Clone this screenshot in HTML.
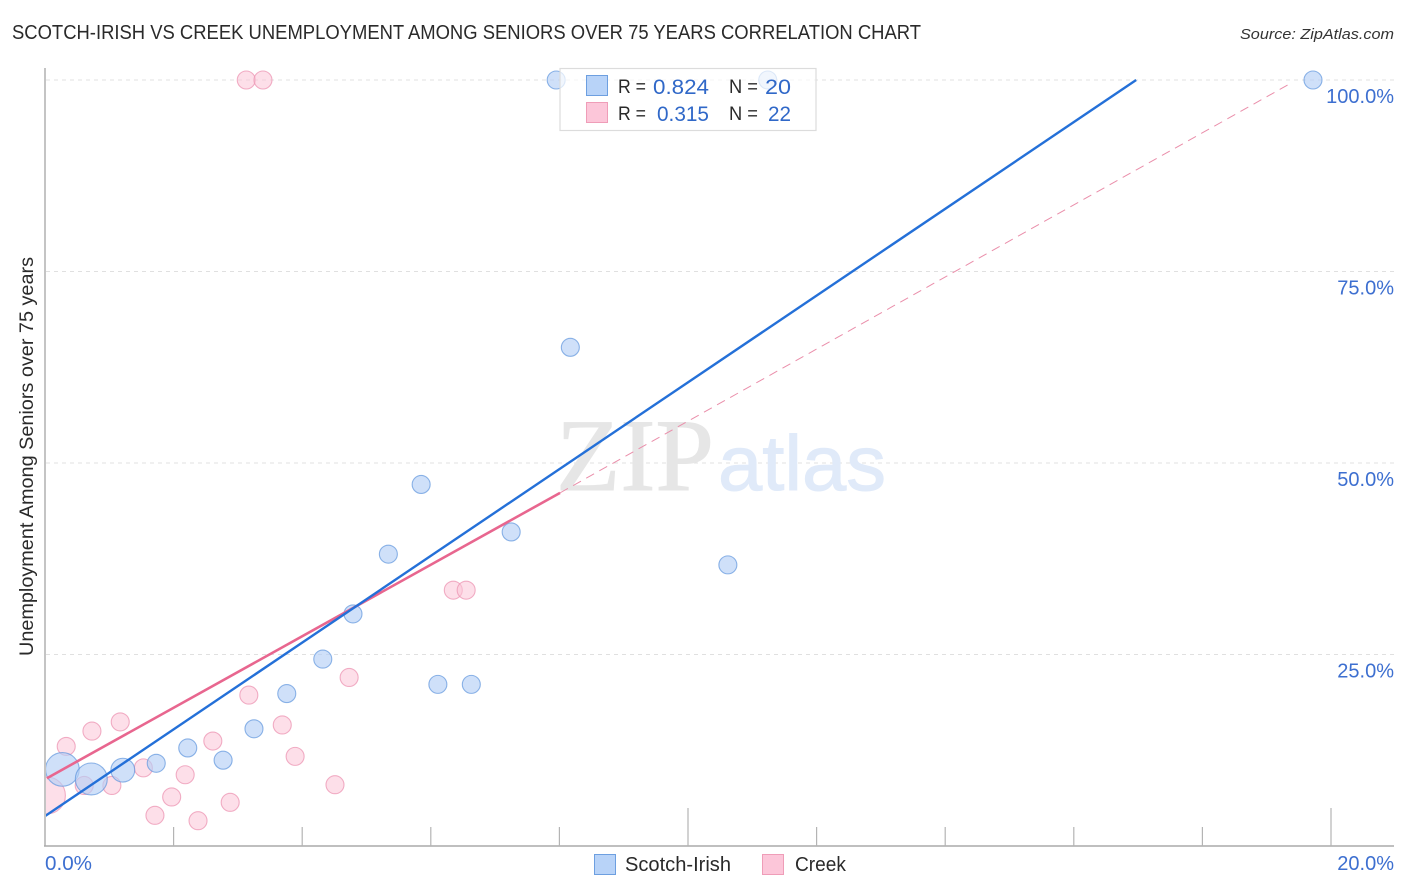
<!DOCTYPE html>
<html lang="en">
<head>
<meta charset="utf-8">
<title>Scotch-Irish vs Creek Unemployment Among Seniors over 75 Years Correlation Chart</title>
<style>
html,body{margin:0;padding:0;background:#fff;}
svg{display:block;font-family:"Liberation Sans",sans-serif;}
</style>
</head>
<body>
<svg id="chart" width="1406" height="892" viewBox="0 0 1406 892" xmlns="http://www.w3.org/2000/svg">
  <defs>
    <clipPath id="plot-clip"><rect x="46" y="60" width="1360" height="786"/></clipPath>
  </defs>
  <text x="12" y="39" font-size="20" fill="#2a2a2a" textLength="909" lengthAdjust="spacingAndGlyphs">SCOTCH-IRISH VS CREEK UNEMPLOYMENT AMONG SENIORS OVER 75 YEARS CORRELATION CHART</text>
  <text x="1394" y="39" font-size="15" font-style="italic" fill="#333" text-anchor="end" textLength="154" lengthAdjust="spacingAndGlyphs">Source: ZipAtlas.com</text>
  <text transform="translate(33,656) rotate(-90)" font-size="19" fill="#2a2a2a" textLength="399" lengthAdjust="spacingAndGlyphs">Unemployment Among Seniors over 75 years</text>

  <g id="grid"></g>

  <g>
    <text x="556" y="490" font-family="'Liberation Serif',serif" font-size="103" fill="#e6e6e6" stroke="#e6e6e6" stroke-width="1" textLength="158" lengthAdjust="spacingAndGlyphs">ZIP</text>
    <text x="718" y="490" font-size="78" fill="#e0eaf9" stroke="#e0eaf9" stroke-width="1" textLength="168" lengthAdjust="spacingAndGlyphs">atlas</text>
  </g>

  <g id="axes"></g>
  <g id="points-creek" clip-path="url(#plot-clip)"></g>
  <g id="points-scotch" clip-path="url(#plot-clip)"></g>
  <g id="trends" clip-path="url(#plot-clip)"></g>
  <g id="labels"></g>

  <g>
    <rect x="560" y="68.5" width="256" height="62" fill="#fff" fill-opacity="0.7" stroke="#dcdcdc" stroke-width="1.2"/>
    <rect x="586.5" y="75.5" width="21" height="20" fill="#b8d3f8" stroke="#6d9fe0" stroke-width="1"/>
    <rect x="586.5" y="102.5" width="21" height="20" fill="#fcc6d9" stroke="#ef9db8" stroke-width="1"/>
    <text x="618" y="93" font-size="19" fill="#2a2a2a" textLength="28" lengthAdjust="spacingAndGlyphs">R =</text>
    <text x="653" y="94" font-size="21" fill="#3068c8" textLength="56" lengthAdjust="spacingAndGlyphs">0.824</text>
    <text x="729" y="93" font-size="19" fill="#2a2a2a" textLength="29" lengthAdjust="spacingAndGlyphs">N =</text>
    <text x="765" y="94" font-size="21" fill="#3068c8" textLength="26" lengthAdjust="spacingAndGlyphs">20</text>
    <text x="618" y="120" font-size="19" fill="#2a2a2a" textLength="28" lengthAdjust="spacingAndGlyphs">R =</text>
    <text x="657" y="121" font-size="21" fill="#3068c8" textLength="52" lengthAdjust="spacingAndGlyphs">0.315</text>
    <text x="729" y="120" font-size="19" fill="#2a2a2a" textLength="29" lengthAdjust="spacingAndGlyphs">N =</text>
    <text x="768" y="121" font-size="21" fill="#3068c8" textLength="23" lengthAdjust="spacingAndGlyphs">22</text>
  </g>

  <g>
    <rect x="594.5" y="854.5" width="21" height="20" fill="#b8d3f8" stroke="#6d9fe0" stroke-width="1"/>
    <text x="625" y="871" font-size="20" fill="#2a2a2a" textLength="106" lengthAdjust="spacingAndGlyphs">Scotch-Irish</text>
    <rect x="762.5" y="854.5" width="21" height="20" fill="#fcc6d9" stroke="#ef9db8" stroke-width="1"/>
    <text x="795" y="871" font-size="20" fill="#2a2a2a" textLength="51" lengthAdjust="spacingAndGlyphs">Creek</text>
  </g>
</svg>
<script>
const yTickValues = [25, 50, 75, 100];
const yTickLabels = ["25.0%", "50.0%", "75.0%", "100.0%"];
const xTickValues = [0, 2, 4, 6, 8, 10, 12, 14, 16, 18, 20];
const xMajorTicks = [0, 10, 20];
const xEndLabels = ["0.0%", "20.0%"];

const scotchX = [0.27, 0.72, 1.21, 1.73, 2.22, 2.77, 3.25, 3.76, 4.32, 4.79, 5.34, 5.85, 6.11, 6.63, 7.25, 7.95, 8.17, 10.62, 11.24, 19.72];
const scotchY = [10.0, 8.75, 9.9, 10.8, 12.8, 11.2, 15.3, 19.9, 24.4, 30.3, 38.1, 47.2, 21.1, 21.1, 41.0, 100, 65.1, 36.7, 100, 100];
const scotchWeight = [3.5, 3.15, 1.75, 1, 1, 1, 1, 1, 1, 1, 1, 1, 1, 1, 1, 1, 1, 1, 1, 1];

const creekX = [0.03, 0.33, 0.73, 1.17, 0.61, 1.04, 1.53, 2.18, 1.71, 1.97, 2.38, 2.88, 2.61, 3.17, 3.69, 3.89, 4.51, 4.73, 6.35, 6.55, 3.13, 3.39];
const creekY = [6.6, 13.0, 15.0, 16.2, 7.9, 7.9, 10.2, 9.3, 4.0, 6.4, 3.3, 5.7, 13.7, 19.7, 15.8, 11.7, 8.0, 22.0, 33.4, 33.4, 100, 100];
const creekWeight = [4.2, 1, 1, 1, 1, 1, 1, 1, 1, 1, 1, 1, 1, 1, 1, 1, 1, 1, 1, 1, 1, 1];

const scotchTrendX = [0, 16.97];
const scotchTrendY = [3.9, 100];
const creekTrendX = [0.03, 8.01];
const creekTrendY = [8.85, 46.1];
const creekProjectionX = [8.01, 19.38];
const creekProjectionY = [46.1, 99.6];

const NS = 'http://www.w3.org/2000/svg';
const xAxis = v => 45 + v * 64.3;
const yAxis = v => 846 - v * 7.66;
const rScale = w => 9 * Math.sqrt(w);

function make(tag, attrs, parent) {
  const el = document.createElementNS(NS, tag);
  for (const k in attrs) el.setAttribute(k, attrs[k]);
  parent.appendChild(el);
  return el;
}

const gridG = document.getElementById('grid');
const axesG = document.getElementById('axes');
const labelsG = document.getElementById('labels');
const scotchG = document.getElementById('points-scotch');
const creekG = document.getElementById('points-creek');
const trendsG = document.getElementById('trends');

yTickValues.forEach((v, i) => {
  const line = make('line', {x1: 46, x2: 1394, y1: yAxis(v), y2: yAxis(v), stroke: '#e0e0e0', 'stroke-width': 1, 'stroke-dasharray': '4 4'}, gridG);
  
  
  const label = make('text', {x: 1394, y: yAxis(v) + 23, 'font-size': 20, fill: '#3d6fd0', 'text-anchor': 'end'}, labelsG);
  label.textContent = yTickLabels[i];
  
  
});

const yLine = make('line', {x1: 45, x2: 45, y1: 68, y2: 846, stroke: '#aaaaaa', 'stroke-width': 1.4}, axesG);


const xLine = make('line', {x1: 44, x2: 1394, y1: 846, y2: 846, stroke: '#aaaaaa', 'stroke-width': 1.4}, axesG);



xTickValues.forEach(v => {
  if (v === 0) return;
  const top = xMajorTicks.includes(v) ? 808 : 827;
  const tick = make('line', {x1: xAxis(v), x2: xAxis(v), y1: top, y2: 846, stroke: '#b4b4b4', 'stroke-width': 1.2}, axesG);
  
  
});

const xStart = make('text', {x: 45, y: 870, 'font-size': 20, fill: '#3d6fd0', textLength: 47, lengthAdjust: 'spacingAndGlyphs'}, labelsG);
xStart.textContent = xEndLabels[0];


const xEnd = make('text', {x: 1394, y: 870, 'font-size': 20, fill: '#3d6fd0', 'text-anchor': 'end'}, labelsG);
xEnd.textContent = xEndLabels[1];



creekX.forEach((x, i) => {
  const c = make('circle', {cx: xAxis(x), cy: yAxis(creekY[i]), r: rScale(creekWeight[i]), fill: '#fbc4d7', 'fill-opacity': 0.55, stroke: '#ee9ab6', 'stroke-opacity': 0.8, 'stroke-width': 1.1}, creekG);
  
  
});

scotchX.forEach((x, i) => {
  const c = make('circle', {cx: xAxis(x), cy: yAxis(scotchY[i]), r: rScale(scotchWeight[i]), fill: '#b5d0f6', 'fill-opacity': 0.65, stroke: '#5f95dd', 'stroke-opacity': 0.7, 'stroke-width': 1.1}, scotchG);
  
  
});

const projection = make('line', {x1: xAxis(creekProjectionX[0]), y1: yAxis(creekProjectionY[0]), x2: xAxis(creekProjectionX[1]), y2: yAxis(creekProjectionY[1]), stroke: '#ea8eaa', 'stroke-width': 1, 'stroke-dasharray': '9 6'}, trendsG);


const creekTrend = make('line', {x1: xAxis(creekTrendX[0]), y1: yAxis(creekTrendY[0]), x2: xAxis(creekTrendX[1]), y2: yAxis(creekTrendY[1]), stroke: '#e8668f', 'stroke-width': 2.6}, trendsG);


const scotchTrend = make('line', {x1: xAxis(scotchTrendX[0]), y1: yAxis(scotchTrendY[0]), x2: xAxis(scotchTrendX[1]), y2: yAxis(scotchTrendY[1]), stroke: '#2470d8', 'stroke-width': 2.4}, trendsG);


</script>
</body>
</html>
